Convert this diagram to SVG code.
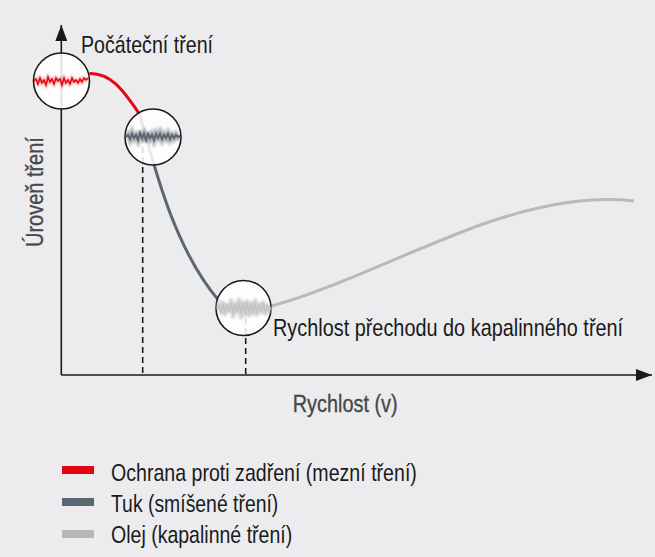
<svg xmlns="http://www.w3.org/2000/svg" width="655" height="557" viewBox="0 0 655 557">
<defs>
<style>
.t{font-family:"Liberation Sans",Arial,sans-serif;font-size:24px;fill:#1a1a1a}
.g{fill:#474747;stroke:#474747;stroke-width:0.35}
.ax{stroke:#1a1a1a;stroke-width:1.6;fill:none}
.dash{stroke:#1a1a1a;stroke-width:1.6;stroke-dasharray:6 4;fill:none}
.lens{fill:#ffffff;fill-opacity:0.86;stroke:#1a1a1a;stroke-width:1.6}
.red{stroke:#e30613;stroke-width:3;fill:none}
.dark{stroke:#5a6670;stroke-width:3;fill:none}
.light{stroke:#b9b9b9;stroke-width:3;fill:none}
</style>
<filter id="soft" x="-10%" y="-50%" width="120%" height="200%"><feGaussianBlur stdDeviation="0.8"/></filter>
<marker id="arr" viewBox="0 0 16 12" refX="16" refY="6" markerWidth="16" markerHeight="12" markerUnits="userSpaceOnUse" orient="auto"><path d="M0,0 L16,6 L0,12 Z" fill="#1a1a1a"/></marker>
</defs>
<rect x="0" y="0" width="655" height="557" fill="#ececee"/>
<g id="connectors">
<path class="red" d="M89.5,73.5 C110,73 122,88 140,115"/>
<path class="dark" d="M140,115 C155,170 175,250 220,302"/>
<path class="light" d="M220,302 C235,312 255,310 275,305 C330,290 400,255 480,225 C540,204 590,196 634,201"/>
<path class="dash" d="M142.7,137 V375"/>
<path class="dash" d="M245.7,308 V375"/>
</g>
<g id="axes">
<line class="ax" x1="61.3" y1="375" x2="61.3" y2="25" marker-end="url(#arr)"/>
<line class="ax" x1="61.3" y1="375" x2="652" y2="375" marker-end="url(#arr)"/>
</g>
<g id="lens-boundary">
<circle class="lens" cx="61.5" cy="81" r="28"/>
<path d="M34,81 L36,79 L38,84 L40,78 L42,83 L44,80 L46,85 L48,77 L50,82 L52,79 L54,84 L56,78 L58,81 L60,79 L62,85 L64,78 L66,83 L68,80 L70,84 L72,78 L74,82 L76,80 L78,83 L80,79 L82,82 L84,78 L86,80 L88,78" stroke="#e30613" stroke-width="3" fill="none" opacity="0.35" filter="url(#soft)"/>
<path d="M34,81 L36,79 L38,84 L40,78 L42,83 L44,80 L46,85 L48,77 L50,82 L52,79 L54,84 L56,78 L58,81 L60,79 L62,85 L64,78 L66,83 L68,80 L70,84 L72,78 L74,82 L76,80 L78,83 L80,79 L82,82 L84,78 L86,80 L88,78" stroke="#e30613" stroke-width="1.5" fill="none"/>
</g>
<g id="lens-mixed">
<circle class="lens" cx="153" cy="137" r="28"/>
<path d="M126,137 L128,134 L130,140 L132,132 L134,139 L136,135 L138,141 L140,131 L142,138 L144,133 L146,142 L148,132 L150,139 L152,134 L154,141 L156,133 L158,138 L160,132 L162,140 L164,134 L166,139 L168,133 L170,140 L172,135 L174,139 L176,134 L178,138 L180,136" stroke="#5a6670" stroke-width="4" fill="none" opacity="0.55" filter="url(#soft)"/>
<path d="M126,137 L128,135 L130,139 L132,134 L134,138 L136,135 L138,140 L140,133 L142,138 L144,134 L146,140 L148,134 L150,138 L152,135 L154,140 L156,134 L158,138 L160,134 L162,139 L164,135 L166,138 L168,134 L170,139 L172,135 L174,138 L176,135 L178,137 L180,136" stroke="#5a6670" stroke-width="2" fill="none"/>
</g>
<g id="lens-fluid">
<circle class="lens" cx="243.5" cy="308" r="27.5"/>
<path d="M217,309 L219,303 L221,314 L223,301 L225,316 L227,304 L229,312 L231,299 L233,318 L235,302 L237,314 L239,298 L241,319 L243,301 L245,316 L247,300 L249,317 L251,302 L253,315 L255,299 L257,316 L259,303 L261,313 L263,301 L265,315 L267,304 L269,311 L271,307" stroke="#bdbdbd" stroke-width="3.5" fill="none" opacity="0.7" filter="url(#soft)"/>
<path d="M217,309 L219,305 L221,312 L223,304 L225,313 L227,305 L229,311 L231,303 L233,314 L235,304 L237,312 L239,302 L241,314 L243,303 L245,313 L247,303 L249,313 L251,304 L253,312 L255,303 L257,313 L259,305 L261,311 L263,304 L265,312 L267,306 L269,310 L271,308" stroke="#c4c4c4" stroke-width="1.5" fill="none"/>
</g>
<g id="labels">
<text class="t" transform="translate(81,53) scale(0.82,1)" textLength="161" lengthAdjust="spacingAndGlyphs">Počáteční tření</text>
<text class="t" transform="translate(273,336) scale(0.82,1)" textLength="427" lengthAdjust="spacingAndGlyphs">Rychlost přechodu do kapalinného tření</text>
<text class="t g" transform="translate(292.7,412) scale(0.82,1)" textLength="128" lengthAdjust="spacingAndGlyphs">Rychlost (v)</text>
<text class="t g" transform="translate(42.7,247) rotate(-90) scale(0.82,1)" textLength="134" lengthAdjust="spacingAndGlyphs">Úroveň tření</text>
</g>
<g id="legend">
<rect x="62" y="466" width="32" height="8" fill="#e30613"/>
<rect x="62" y="498" width="32" height="8" fill="#5a6670"/>
<rect x="62" y="530" width="32" height="8" fill="#b9b9b9"/>
<text class="t" transform="translate(111,481) scale(0.82,1)" textLength="373" lengthAdjust="spacingAndGlyphs">Ochrana proti zadření (mezní tření)</text>
<text class="t" transform="translate(111,512) scale(0.82,1)" textLength="204" lengthAdjust="spacingAndGlyphs">Tuk (smíšené tření)</text>
<text class="t" transform="translate(111,543) scale(0.82,1)" textLength="221" lengthAdjust="spacingAndGlyphs">Olej (kapalinné tření)</text>
</g>
</svg>
